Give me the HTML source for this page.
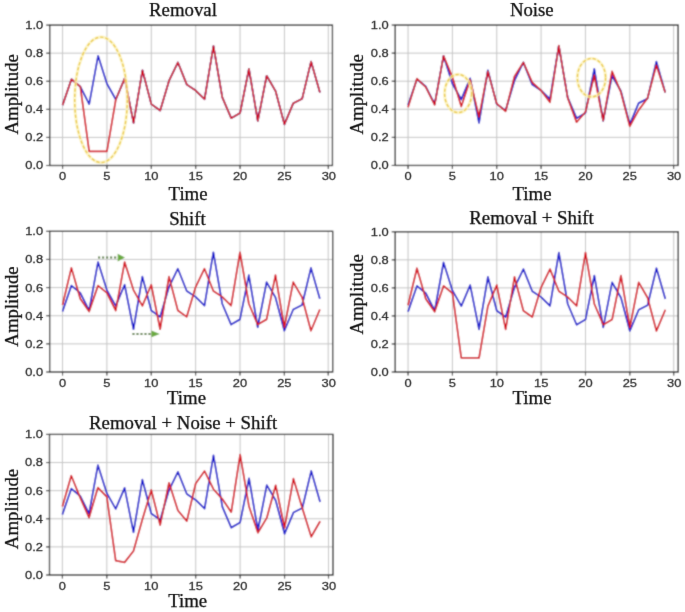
<!DOCTYPE html>
<html><head><meta charset="utf-8"><style>
html,body{margin:0;padding:0;background:#fff;}
body{width:685px;height:612px;overflow:hidden;}
svg{display:block;}
.grid{stroke:#c4c4c4;stroke-width:1.0;}
.spine{fill:none;stroke:#1a1a1a;stroke-width:1.3;}
.tick{stroke:#1a1a1a;stroke-width:1.1;}
.bl{fill:none;stroke:#1a1acc;stroke-width:1.75;stroke-linejoin:round;}
.rd{fill:none;stroke:#d41422;stroke-width:1.75;stroke-linejoin:round;}
.tl{font-family:"Liberation Sans",sans-serif;font-size:11.7px;fill:#333;letter-spacing:0px;stroke:#333;stroke-width:0.3px;}
.ti{font-family:"Liberation Serif",serif;font-size:18.8px;fill:#0a0a0a;stroke:#0a0a0a;stroke-width:0.25px;}
.ellh{opacity:0.8;fill:none;stroke:#fcf2b8;stroke-width:3.2;}
.ell{opacity:0.8;fill:none;stroke:#e6c030;stroke-width:1.45;stroke-dasharray:3.3 2;}
.dot{stroke:#5e8048;stroke-width:2;stroke-dasharray:2.2 1.8;}
.ah{fill:#6aaa40;}
</style></head><body>
<svg width="685" height="612" viewBox="0 0 685 612">
<defs><filter id="bl" x="0" y="0" width="685" height="612" filterUnits="userSpaceOnUse"><feConvolveMatrix order="3" kernelMatrix="1 2 1 2 8 2 1 2 1" divisor="20" edgeMode="duplicate"/></filter><filter id="bt" x="0" y="0" width="685" height="612" filterUnits="userSpaceOnUse"><feConvolveMatrix order="3" kernelMatrix="0 1 0 1 12 1 0 1 0" divisor="16" edgeMode="duplicate"/></filter></defs><g filter="url(#bl)"><rect width="685" height="612" fill="#fff"/>
<line x1="62.57" y1="25.10" x2="62.57" y2="165.50" class="grid"/>
<line x1="106.94" y1="25.10" x2="106.94" y2="165.50" class="grid"/>
<line x1="151.31" y1="25.10" x2="151.31" y2="165.50" class="grid"/>
<line x1="195.69" y1="25.10" x2="195.69" y2="165.50" class="grid"/>
<line x1="240.06" y1="25.10" x2="240.06" y2="165.50" class="grid"/>
<line x1="284.43" y1="25.10" x2="284.43" y2="165.50" class="grid"/>
<line x1="328.31" y1="25.10" x2="328.31" y2="165.50" class="grid"/>
<line x1="49.70" y1="137.42" x2="332.80" y2="137.42" class="grid"/>
<line x1="49.70" y1="109.34" x2="332.80" y2="109.34" class="grid"/>
<line x1="49.70" y1="81.26" x2="332.80" y2="81.26" class="grid"/>
<line x1="49.70" y1="53.18" x2="332.80" y2="53.18" class="grid"/>
<polyline points="62.57,105.13 71.44,79.29 80.32,86.60 89.19,104.15 98.07,55.85 106.94,83.79 115.82,99.51 124.69,78.45 133.57,122.82 142.44,70.31 151.31,104.15 160.19,110.46 169.06,80.70 177.94,62.45 186.81,84.63 195.69,90.53 204.56,99.23 213.44,46.02 222.31,97.41 231.19,118.19 240.06,112.99 248.93,68.90 257.81,120.85 266.68,75.78 275.56,91.09 284.43,124.36 293.31,103.16 302.18,98.67 311.06,61.60 319.93,92.49" class="bl"/>
<polyline points="62.57,105.13 71.44,79.29 80.32,86.60 89.19,151.46 98.07,151.46 106.94,151.46 115.82,99.51 124.69,78.45 133.57,122.82 142.44,70.31 151.31,104.15 160.19,110.46 169.06,80.70 177.94,62.45 186.81,84.63 195.69,90.53 204.56,99.23 213.44,46.02 222.31,97.41 231.19,118.19 240.06,112.99 248.93,68.90 257.81,120.85 266.68,75.78 275.56,91.09 284.43,124.36 293.31,103.16 302.18,98.67 311.06,61.60 319.93,92.49" class="rd"/>
<rect x="49.70" y="25.10" width="282.75" height="140.40" class="spine"/>
<line x1="62.57" y1="165.50" x2="62.57" y2="169.00" class="tick"/>
<line x1="106.94" y1="165.50" x2="106.94" y2="169.00" class="tick"/>
<line x1="151.31" y1="165.50" x2="151.31" y2="169.00" class="tick"/>
<line x1="195.69" y1="165.50" x2="195.69" y2="169.00" class="tick"/>
<line x1="240.06" y1="165.50" x2="240.06" y2="169.00" class="tick"/>
<line x1="284.43" y1="165.50" x2="284.43" y2="169.00" class="tick"/>
<line x1="328.31" y1="165.50" x2="328.31" y2="169.00" class="tick"/>
<line x1="46.20" y1="165.50" x2="49.70" y2="165.50" class="tick"/>
<line x1="46.20" y1="137.42" x2="49.70" y2="137.42" class="tick"/>
<line x1="46.20" y1="109.34" x2="49.70" y2="109.34" class="tick"/>
<line x1="46.20" y1="81.26" x2="49.70" y2="81.26" class="tick"/>
<line x1="46.20" y1="53.18" x2="49.70" y2="53.18" class="tick"/>
<line x1="46.20" y1="25.10" x2="49.70" y2="25.10" class="tick"/>
<line x1="408.06" y1="25.05" x2="408.06" y2="165.45" class="grid"/>
<line x1="452.40" y1="25.05" x2="452.40" y2="165.45" class="grid"/>
<line x1="496.74" y1="25.05" x2="496.74" y2="165.45" class="grid"/>
<line x1="541.08" y1="25.05" x2="541.08" y2="165.45" class="grid"/>
<line x1="585.43" y1="25.05" x2="585.43" y2="165.45" class="grid"/>
<line x1="629.77" y1="25.05" x2="629.77" y2="165.45" class="grid"/>
<line x1="673.61" y1="25.05" x2="673.61" y2="165.45" class="grid"/>
<line x1="395.20" y1="137.37" x2="678.10" y2="137.37" class="grid"/>
<line x1="395.20" y1="109.29" x2="678.10" y2="109.29" class="grid"/>
<line x1="395.20" y1="81.21" x2="678.10" y2="81.21" class="grid"/>
<line x1="395.20" y1="53.13" x2="678.10" y2="53.13" class="grid"/>
<polyline points="408.06,105.08 416.93,79.24 425.80,86.55 434.66,104.10 443.53,55.80 452.40,83.74 461.27,99.46 470.14,78.40 479.01,122.77 487.87,70.26 496.74,104.10 505.61,110.41 514.48,80.65 523.35,62.40 532.22,84.58 541.08,90.48 549.95,99.18 558.82,45.97 567.69,97.36 576.56,118.14 585.43,112.94 594.29,68.85 603.16,120.80 612.03,75.73 620.90,91.04 629.77,124.31 638.64,103.11 647.50,98.62 656.37,61.55 665.24,92.44" class="bl"/>
<polyline points="408.06,107.18 416.93,78.68 425.80,87.11 434.66,104.80 443.53,55.80 452.40,77.00 461.27,106.48 470.14,79.81 479.01,116.87 487.87,71.38 496.74,103.67 505.61,111.26 514.48,76.44 523.35,62.40 532.22,82.47 541.08,90.48 549.95,102.27 558.82,45.69 567.69,97.92 576.56,122.21 585.43,111.96 594.29,75.31 603.16,120.66 612.03,71.38 620.90,92.16 629.77,126.28 638.64,110.13 647.50,98.34 656.37,65.34 665.24,92.44" class="rd"/>
<rect x="395.20" y="25.05" width="282.90" height="140.40" class="spine"/>
<line x1="408.06" y1="165.45" x2="408.06" y2="168.95" class="tick"/>
<line x1="452.40" y1="165.45" x2="452.40" y2="168.95" class="tick"/>
<line x1="496.74" y1="165.45" x2="496.74" y2="168.95" class="tick"/>
<line x1="541.08" y1="165.45" x2="541.08" y2="168.95" class="tick"/>
<line x1="585.43" y1="165.45" x2="585.43" y2="168.95" class="tick"/>
<line x1="629.77" y1="165.45" x2="629.77" y2="168.95" class="tick"/>
<line x1="673.61" y1="165.45" x2="673.61" y2="168.95" class="tick"/>
<line x1="391.70" y1="165.45" x2="395.20" y2="165.45" class="tick"/>
<line x1="391.70" y1="137.37" x2="395.20" y2="137.37" class="tick"/>
<line x1="391.70" y1="109.29" x2="395.20" y2="109.29" class="tick"/>
<line x1="391.70" y1="81.21" x2="395.20" y2="81.21" class="tick"/>
<line x1="391.70" y1="53.13" x2="395.20" y2="53.13" class="tick"/>
<line x1="391.70" y1="25.05" x2="395.20" y2="25.05" class="tick"/>
<line x1="62.52" y1="231.30" x2="62.52" y2="372.00" class="grid"/>
<line x1="106.88" y1="231.30" x2="106.88" y2="372.00" class="grid"/>
<line x1="151.25" y1="231.30" x2="151.25" y2="372.00" class="grid"/>
<line x1="195.61" y1="231.30" x2="195.61" y2="372.00" class="grid"/>
<line x1="239.98" y1="231.30" x2="239.98" y2="372.00" class="grid"/>
<line x1="284.34" y1="231.30" x2="284.34" y2="372.00" class="grid"/>
<line x1="328.21" y1="231.30" x2="328.21" y2="372.00" class="grid"/>
<line x1="49.65" y1="343.86" x2="332.70" y2="343.86" class="grid"/>
<line x1="49.65" y1="315.72" x2="332.70" y2="315.72" class="grid"/>
<line x1="49.65" y1="287.58" x2="332.70" y2="287.58" class="grid"/>
<line x1="49.65" y1="259.44" x2="332.70" y2="259.44" class="grid"/>
<polyline points="62.52,311.50 71.39,285.61 80.26,292.93 89.14,310.51 98.01,262.11 106.88,290.11 115.75,305.87 124.63,284.77 133.50,329.23 142.37,276.61 151.25,310.51 160.12,316.85 168.99,287.02 177.87,268.73 186.74,290.96 195.61,296.87 204.48,305.59 213.36,252.26 222.23,303.76 231.10,324.58 239.98,319.38 248.85,275.20 257.72,327.26 266.60,282.09 275.47,297.43 284.34,330.77 293.21,309.53 302.09,305.03 310.96,267.88 319.83,298.84" class="bl"/>
<polyline points="62.52,305.03 71.39,267.88 80.26,298.84 89.14,311.50 98.01,285.61 106.88,292.93 115.75,310.51 124.63,262.11 133.50,290.11 142.37,305.87 151.25,284.77 160.12,329.23 168.99,276.61 177.87,310.51 186.74,316.85 195.61,287.02 204.48,268.73 213.36,290.96 222.23,296.87 231.10,305.59 239.98,252.26 248.85,303.76 257.72,324.58 266.60,319.38 275.47,275.20 284.34,327.26 293.21,282.09 302.09,297.43 310.96,330.77 319.83,309.53" class="rd"/>
<rect x="49.65" y="231.30" width="283.05" height="140.70" class="spine"/>
<line x1="62.52" y1="372.00" x2="62.52" y2="375.50" class="tick"/>
<line x1="106.88" y1="372.00" x2="106.88" y2="375.50" class="tick"/>
<line x1="151.25" y1="372.00" x2="151.25" y2="375.50" class="tick"/>
<line x1="195.61" y1="372.00" x2="195.61" y2="375.50" class="tick"/>
<line x1="239.98" y1="372.00" x2="239.98" y2="375.50" class="tick"/>
<line x1="284.34" y1="372.00" x2="284.34" y2="375.50" class="tick"/>
<line x1="328.21" y1="372.00" x2="328.21" y2="375.50" class="tick"/>
<line x1="46.15" y1="372.00" x2="49.65" y2="372.00" class="tick"/>
<line x1="46.15" y1="343.86" x2="49.65" y2="343.86" class="tick"/>
<line x1="46.15" y1="315.72" x2="49.65" y2="315.72" class="tick"/>
<line x1="46.15" y1="287.58" x2="49.65" y2="287.58" class="tick"/>
<line x1="46.15" y1="259.44" x2="49.65" y2="259.44" class="tick"/>
<line x1="46.15" y1="231.30" x2="49.65" y2="231.30" class="tick"/>
<line x1="408.06" y1="231.80" x2="408.06" y2="372.00" class="grid"/>
<line x1="452.42" y1="231.80" x2="452.42" y2="372.00" class="grid"/>
<line x1="496.78" y1="231.80" x2="496.78" y2="372.00" class="grid"/>
<line x1="541.14" y1="231.80" x2="541.14" y2="372.00" class="grid"/>
<line x1="585.49" y1="231.80" x2="585.49" y2="372.00" class="grid"/>
<line x1="629.85" y1="231.80" x2="629.85" y2="372.00" class="grid"/>
<line x1="673.71" y1="231.80" x2="673.71" y2="372.00" class="grid"/>
<line x1="395.20" y1="343.96" x2="678.20" y2="343.96" class="grid"/>
<line x1="395.20" y1="315.92" x2="678.20" y2="315.92" class="grid"/>
<line x1="395.20" y1="287.88" x2="678.20" y2="287.88" class="grid"/>
<line x1="395.20" y1="259.84" x2="678.20" y2="259.84" class="grid"/>
<polyline points="408.06,311.71 416.94,285.92 425.81,293.21 434.68,310.73 443.55,262.50 452.42,290.40 461.29,306.11 470.16,285.08 479.04,329.38 487.91,276.94 496.78,310.73 505.65,317.04 514.52,287.32 523.39,269.09 532.26,291.24 541.14,297.13 550.01,305.83 558.88,252.69 567.75,304.00 576.62,324.75 585.49,319.57 594.36,275.54 603.24,327.42 612.11,282.41 620.98,297.69 629.85,330.92 638.72,309.75 647.59,305.26 656.46,268.25 665.34,299.10" class="bl"/>
<polyline points="408.06,305.26 416.94,268.25 425.81,299.10 434.68,311.71 443.55,285.92 452.42,293.21 461.29,357.98 470.16,357.98 479.04,357.98 487.91,306.11 496.78,285.08 505.65,329.38 514.52,276.94 523.39,310.73 532.26,317.04 541.14,287.32 550.01,269.09 558.88,291.24 567.75,297.13 576.62,305.83 585.49,252.69 594.36,304.00 603.24,324.75 612.11,319.57 620.98,275.54 629.85,327.42 638.72,282.41 647.59,297.69 656.46,330.92 665.34,309.75" class="rd"/>
<rect x="395.20" y="231.80" width="283.00" height="140.20" class="spine"/>
<line x1="408.06" y1="372.00" x2="408.06" y2="375.50" class="tick"/>
<line x1="452.42" y1="372.00" x2="452.42" y2="375.50" class="tick"/>
<line x1="496.78" y1="372.00" x2="496.78" y2="375.50" class="tick"/>
<line x1="541.14" y1="372.00" x2="541.14" y2="375.50" class="tick"/>
<line x1="585.49" y1="372.00" x2="585.49" y2="375.50" class="tick"/>
<line x1="629.85" y1="372.00" x2="629.85" y2="375.50" class="tick"/>
<line x1="673.71" y1="372.00" x2="673.71" y2="375.50" class="tick"/>
<line x1="391.70" y1="372.00" x2="395.20" y2="372.00" class="tick"/>
<line x1="391.70" y1="343.96" x2="395.20" y2="343.96" class="tick"/>
<line x1="391.70" y1="315.92" x2="395.20" y2="315.92" class="tick"/>
<line x1="391.70" y1="287.88" x2="395.20" y2="287.88" class="tick"/>
<line x1="391.70" y1="259.84" x2="395.20" y2="259.84" class="tick"/>
<line x1="391.70" y1="231.80" x2="395.20" y2="231.80" class="tick"/>
<line x1="62.39" y1="434.40" x2="62.39" y2="575.00" class="grid"/>
<line x1="106.82" y1="434.40" x2="106.82" y2="575.00" class="grid"/>
<line x1="151.26" y1="434.40" x2="151.26" y2="575.00" class="grid"/>
<line x1="195.69" y1="434.40" x2="195.69" y2="575.00" class="grid"/>
<line x1="240.13" y1="434.40" x2="240.13" y2="575.00" class="grid"/>
<line x1="284.57" y1="434.40" x2="284.57" y2="575.00" class="grid"/>
<line x1="328.50" y1="434.40" x2="328.50" y2="575.00" class="grid"/>
<line x1="49.50" y1="546.88" x2="333.00" y2="546.88" class="grid"/>
<line x1="49.50" y1="518.76" x2="333.00" y2="518.76" class="grid"/>
<line x1="49.50" y1="490.64" x2="333.00" y2="490.64" class="grid"/>
<line x1="49.50" y1="462.52" x2="333.00" y2="462.52" class="grid"/>
<polyline points="62.39,514.54 71.27,488.67 80.16,495.98 89.05,513.56 97.93,465.19 106.82,493.17 115.71,508.92 124.60,487.83 133.48,532.26 142.37,479.67 151.26,513.56 160.14,519.88 169.03,490.08 177.92,471.80 186.81,494.01 195.69,499.92 204.58,508.64 213.47,455.35 222.36,506.81 231.24,527.62 240.13,522.42 249.02,478.27 257.90,530.29 266.79,485.16 275.68,500.48 284.57,533.80 293.45,512.57 302.34,508.07 311.23,470.96 320.11,501.89" class="bl"/>
<polyline points="62.39,506.53 71.27,475.74 80.16,497.67 89.05,517.64 97.93,487.55 106.82,496.97 115.71,560.66 124.60,562.35 133.48,550.96 142.37,519.46 151.26,489.94 160.14,525.09 169.03,482.77 177.92,510.46 186.81,521.15 195.69,483.47 204.58,471.10 213.47,489.23 222.36,499.08 231.24,512.15 240.13,454.65 249.02,506.53 257.90,532.68 266.79,517.92 275.68,485.30 284.57,527.76 293.45,478.69 302.34,508.21 311.23,536.76 320.11,521.29" class="rd"/>
<rect x="49.50" y="434.40" width="283.50" height="140.60" class="spine"/>
<line x1="62.39" y1="575.00" x2="62.39" y2="578.50" class="tick"/>
<line x1="106.82" y1="575.00" x2="106.82" y2="578.50" class="tick"/>
<line x1="151.26" y1="575.00" x2="151.26" y2="578.50" class="tick"/>
<line x1="195.69" y1="575.00" x2="195.69" y2="578.50" class="tick"/>
<line x1="240.13" y1="575.00" x2="240.13" y2="578.50" class="tick"/>
<line x1="284.57" y1="575.00" x2="284.57" y2="578.50" class="tick"/>
<line x1="328.50" y1="575.00" x2="328.50" y2="578.50" class="tick"/>
<line x1="46.00" y1="575.00" x2="49.50" y2="575.00" class="tick"/>
<line x1="46.00" y1="546.88" x2="49.50" y2="546.88" class="tick"/>
<line x1="46.00" y1="518.76" x2="49.50" y2="518.76" class="tick"/>
<line x1="46.00" y1="490.64" x2="49.50" y2="490.64" class="tick"/>
<line x1="46.00" y1="462.52" x2="49.50" y2="462.52" class="tick"/>
<line x1="46.00" y1="434.40" x2="49.50" y2="434.40" class="tick"/>
<ellipse cx="101" cy="99.8" rx="26.3" ry="62.7" class="ellh"/>
<ellipse cx="101" cy="99.8" rx="26.3" ry="62.7" class="ell"/>
<ellipse cx="458.1" cy="93.5" rx="13.5" ry="19.1" class="ellh"/>
<ellipse cx="458.1" cy="93.5" rx="13.5" ry="19.1" class="ell"/>
<ellipse cx="591.5" cy="77.7" rx="14.1" ry="19.2" class="ellh"/>
<ellipse cx="591.5" cy="77.7" rx="14.1" ry="19.2" class="ell"/>
<line x1="98" y1="257.6" x2="117.7" y2="257.6" class="dot"/><polygon points="117.7,253.8 125,257.6 117.7,261.40000000000003" class="ah"/>
<line x1="132.4" y1="333.9" x2="151.4" y2="333.9" class="dot"/><polygon points="151.4,330.5 159.8,333.9 151.4,337.29999999999995" class="ah"/>
</g>
<g filter="url(#bt)">
<text transform="translate(62.57,180.20) scale(1.1,1)" class="tl" text-anchor="middle">0</text>
<text transform="translate(106.94,180.20) scale(1.1,1)" class="tl" text-anchor="middle">5</text>
<text transform="translate(151.31,180.20) scale(1.1,1)" class="tl" text-anchor="middle">10</text>
<text transform="translate(195.69,180.20) scale(1.1,1)" class="tl" text-anchor="middle">15</text>
<text transform="translate(240.06,180.20) scale(1.1,1)" class="tl" text-anchor="middle">20</text>
<text transform="translate(284.43,180.20) scale(1.1,1)" class="tl" text-anchor="middle">25</text>
<text transform="translate(328.81,180.20) scale(1.1,1)" class="tl" text-anchor="middle">30</text>
<text transform="translate(43.10,169.45) scale(1.1,1)" class="tl" text-anchor="end">0.0</text>
<text transform="translate(43.10,141.37) scale(1.1,1)" class="tl" text-anchor="end">0.2</text>
<text transform="translate(43.10,113.29) scale(1.1,1)" class="tl" text-anchor="end">0.4</text>
<text transform="translate(43.10,85.21) scale(1.1,1)" class="tl" text-anchor="end">0.6</text>
<text transform="translate(43.10,57.13) scale(1.1,1)" class="tl" text-anchor="end">0.8</text>
<text transform="translate(43.10,29.05) scale(1.1,1)" class="tl" text-anchor="end">1.0</text>
<text x="183.00" y="15.70" class="ti" text-anchor="middle">Removal</text>
<text x="188.10" y="200.40" class="ti" text-anchor="middle">Time</text>
<text transform="translate(17.60,94.30) rotate(-90)" class="ti" text-anchor="middle">Amplitude</text>
<text transform="translate(408.06,180.15) scale(1.1,1)" class="tl" text-anchor="middle">0</text>
<text transform="translate(452.40,180.15) scale(1.1,1)" class="tl" text-anchor="middle">5</text>
<text transform="translate(496.74,180.15) scale(1.1,1)" class="tl" text-anchor="middle">10</text>
<text transform="translate(541.08,180.15) scale(1.1,1)" class="tl" text-anchor="middle">15</text>
<text transform="translate(585.43,180.15) scale(1.1,1)" class="tl" text-anchor="middle">20</text>
<text transform="translate(629.77,180.15) scale(1.1,1)" class="tl" text-anchor="middle">25</text>
<text transform="translate(674.11,180.15) scale(1.1,1)" class="tl" text-anchor="middle">30</text>
<text transform="translate(388.60,169.40) scale(1.1,1)" class="tl" text-anchor="end">0.0</text>
<text transform="translate(388.60,141.32) scale(1.1,1)" class="tl" text-anchor="end">0.2</text>
<text transform="translate(388.60,113.24) scale(1.1,1)" class="tl" text-anchor="end">0.4</text>
<text transform="translate(388.60,85.16) scale(1.1,1)" class="tl" text-anchor="end">0.6</text>
<text transform="translate(388.60,57.08) scale(1.1,1)" class="tl" text-anchor="end">0.8</text>
<text transform="translate(388.60,29.00) scale(1.1,1)" class="tl" text-anchor="end">1.0</text>
<text x="531.80" y="15.80" class="ti" text-anchor="middle">Noise</text>
<text x="532.00" y="200.20" class="ti" text-anchor="middle">Time</text>
<text transform="translate(362.60,94.30) rotate(-90)" class="ti" text-anchor="middle">Amplitude</text>
<text transform="translate(62.52,386.70) scale(1.1,1)" class="tl" text-anchor="middle">0</text>
<text transform="translate(106.88,386.70) scale(1.1,1)" class="tl" text-anchor="middle">5</text>
<text transform="translate(151.25,386.70) scale(1.1,1)" class="tl" text-anchor="middle">10</text>
<text transform="translate(195.61,386.70) scale(1.1,1)" class="tl" text-anchor="middle">15</text>
<text transform="translate(239.98,386.70) scale(1.1,1)" class="tl" text-anchor="middle">20</text>
<text transform="translate(284.34,386.70) scale(1.1,1)" class="tl" text-anchor="middle">25</text>
<text transform="translate(328.71,386.70) scale(1.1,1)" class="tl" text-anchor="middle">30</text>
<text transform="translate(43.05,375.95) scale(1.1,1)" class="tl" text-anchor="end">0.0</text>
<text transform="translate(43.05,347.81) scale(1.1,1)" class="tl" text-anchor="end">0.2</text>
<text transform="translate(43.05,319.67) scale(1.1,1)" class="tl" text-anchor="end">0.4</text>
<text transform="translate(43.05,291.53) scale(1.1,1)" class="tl" text-anchor="end">0.6</text>
<text transform="translate(43.05,263.39) scale(1.1,1)" class="tl" text-anchor="end">0.8</text>
<text transform="translate(43.05,235.25) scale(1.1,1)" class="tl" text-anchor="end">1.0</text>
<text x="187.40" y="224.60" class="ti" text-anchor="middle">Shift</text>
<text x="186.50" y="404.00" class="ti" text-anchor="middle">Time</text>
<text transform="translate(17.60,306.50) rotate(-90)" class="ti" text-anchor="middle">Amplitude</text>
<text transform="translate(408.06,386.70) scale(1.1,1)" class="tl" text-anchor="middle">0</text>
<text transform="translate(452.42,386.70) scale(1.1,1)" class="tl" text-anchor="middle">5</text>
<text transform="translate(496.78,386.70) scale(1.1,1)" class="tl" text-anchor="middle">10</text>
<text transform="translate(541.14,386.70) scale(1.1,1)" class="tl" text-anchor="middle">15</text>
<text transform="translate(585.49,386.70) scale(1.1,1)" class="tl" text-anchor="middle">20</text>
<text transform="translate(629.85,386.70) scale(1.1,1)" class="tl" text-anchor="middle">25</text>
<text transform="translate(674.21,386.70) scale(1.1,1)" class="tl" text-anchor="middle">30</text>
<text transform="translate(388.60,375.95) scale(1.1,1)" class="tl" text-anchor="end">0.0</text>
<text transform="translate(388.60,347.91) scale(1.1,1)" class="tl" text-anchor="end">0.2</text>
<text transform="translate(388.60,319.87) scale(1.1,1)" class="tl" text-anchor="end">0.4</text>
<text transform="translate(388.60,291.83) scale(1.1,1)" class="tl" text-anchor="end">0.6</text>
<text transform="translate(388.60,263.79) scale(1.1,1)" class="tl" text-anchor="end">0.8</text>
<text transform="translate(388.60,235.75) scale(1.1,1)" class="tl" text-anchor="end">1.0</text>
<text x="531.50" y="224.20" class="ti" text-anchor="middle">Removal + Shift</text>
<text x="532.00" y="403.80" class="ti" text-anchor="middle">Time</text>
<text transform="translate(362.50,294.40) rotate(-90)" class="ti" text-anchor="middle">Amplitude</text>
<text transform="translate(62.39,589.70) scale(1.1,1)" class="tl" text-anchor="middle">0</text>
<text transform="translate(106.82,589.70) scale(1.1,1)" class="tl" text-anchor="middle">5</text>
<text transform="translate(151.26,589.70) scale(1.1,1)" class="tl" text-anchor="middle">10</text>
<text transform="translate(195.69,589.70) scale(1.1,1)" class="tl" text-anchor="middle">15</text>
<text transform="translate(240.13,589.70) scale(1.1,1)" class="tl" text-anchor="middle">20</text>
<text transform="translate(284.57,589.70) scale(1.1,1)" class="tl" text-anchor="middle">25</text>
<text transform="translate(329.00,589.70) scale(1.1,1)" class="tl" text-anchor="middle">30</text>
<text transform="translate(42.90,578.95) scale(1.1,1)" class="tl" text-anchor="end">0.0</text>
<text transform="translate(42.90,550.83) scale(1.1,1)" class="tl" text-anchor="end">0.2</text>
<text transform="translate(42.90,522.71) scale(1.1,1)" class="tl" text-anchor="end">0.4</text>
<text transform="translate(42.90,494.59) scale(1.1,1)" class="tl" text-anchor="end">0.6</text>
<text transform="translate(42.90,466.47) scale(1.1,1)" class="tl" text-anchor="end">0.8</text>
<text transform="translate(42.90,438.35) scale(1.1,1)" class="tl" text-anchor="end">1.0</text>
<text x="183.10" y="429.40" class="ti" text-anchor="middle">Removal + Noise + Shift</text>
<text x="187.70" y="606.50" class="ti" text-anchor="middle">Time</text>
<text transform="translate(18.30,509.00) rotate(-90)" class="ti" text-anchor="middle">Amplitude</text>
</g>
</svg>
</body></html>
